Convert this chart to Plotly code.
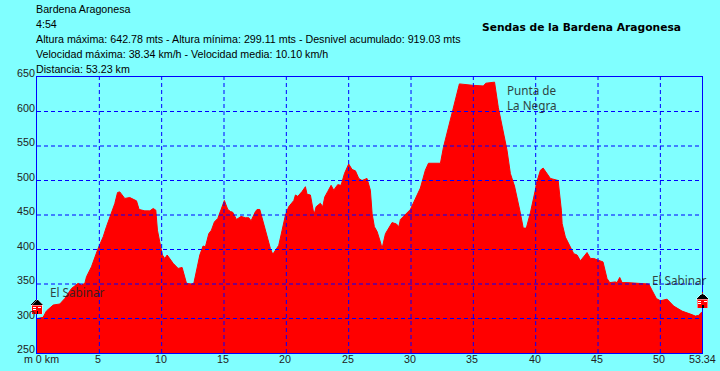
import base64
import plotly.graph_objects as go

km = [0,0.49,0.76,1.3,1.83,2.23,2.77,3.3,3.57,3.84,3.97,4.37,4.9,5.31,5.57,5.97,6.24,6.46,6.64,7.04,7.44,7.98,8.19,8.65,9.05,9.32,9.53,9.66,9.9,10.06,10.25,10.44,10.92,11.32,11.64,11.99,12.39,12.58,13.06,13.32,13.51,13.78,13.99,14.23,14.5,14.77,15.03,15.3,15.52,15.7,16.0,16.37,16.72,16.99,17.17,17.52,17.65,17.87,18.14,18.46,18.72,18.91,19.12,19.39,19.66,19.93,20.19,20.6,20.73,20.92,21.26,21.53,21.66,21.93,22.15,22.25,22.39,22.73,22.92,23.08,23.32,23.59,23.8,24.12,24.39,24.66,25.0,25.27,25.54,25.81,26.07,26.47,26.74,26.88,27.06,27.28,27.54,27.68,27.95,28.21,28.48,28.83,29.02,29.15,29.95,30.75,31.15,31.4,32.36,32.6,33.0,33.3,33.88,34.92,35.8,36.0,36.7,37.0,37.4,37.7,37.97,38.2,38.3,38.77,39.0,39.25,39.57,39.98,40.06,40.38,40.6,41.18,41.8,42.06,42.12,42.38,42.78,43.05,43.32,43.59,44.12,44.39,44.66,45.19,45.4,45.72,45.94,46.39,46.53,46.74,46.93,47.33,49.07,49.33,49.68,50.0,50.54,51.07,51.74,52.41,52.81,53.07,53.34]
elevation = [300,301.7,311,319.5,321,329,343.6,351,348.4,351,360.5,375,401.5,418.4,433,452,466.6,482.6,483.5,474,475.3,470.5,458,456,456,459.4,457,428,408.7,392,387,392,380,372.6,374,351,350,351,392,405,404,423,428,440,445,459,471,458,455,454,443.5,448,446,446,441.5,455,458,458,440,418,401.5,393,399,406,428,450,462,471,479,477,484,491,480,479,457,452,462,467,462,476,484,493,486,494,493,510,524,516,514,503,500,503,486,452,433,426,411,401.5,423,430.5,439,437,433,443.5,458,489,515,525,525,548,577,602,640,638,637,641,642.5,606,573,544,510,496,492,453,431,431,453,487,496,515,518,503,500,457,437.6,418,404,394,392,383.6,395.6,387,387,383.6,382,358,352,353,352,359.5,352,352,350,341,329,325.7,328,318,310.7,306.4,303.5,304.5,309.8]

y_ticks = [250,300,350,400,450,500,550,600,650]
x_ticks = [5,10,15,20,25,30,35,40,45,50]
x_tick_labels = ["5","10","15","20","25","30","35","40","45","50"]
info_lines = [
    "Bardena Aragonesa",
    "4:54",
    "Altura máxima: 642.78 mts - Altura mínima: 299.11 mts - Desnivel acumulado: 919.03 mts",
    "Velocidad máxima: 38.34 km/h - Velocidad media: 10.10 km/h",
    "Distancia: 53.23 km",
]
title = "Sendas de la Bardena Aragonesa"
x_max = 53.34

BG = "#80FFFF"
BLUE = "#0000FF"
L, R, T, B = 36.5, 702.5, 76.5, 353.0

def px(x):
    return (x - L) / (R - L)

def py(y):
    return (B - y) / (B - T)

house = """<svg xmlns='http://www.w3.org/2000/svg' width='13' height='16' viewBox='0 0 13 16' shape-rendering='crispEdges'>
<rect x='6' y='0' width='1' height='1' fill='#ff0000'/>
<polygon points='6.5,1 13,7 0,7' fill='#000000' stroke='#ffffff' stroke-width='0.5'/>
<rect x='1' y='7' width='11' height='9' fill='#ff0000' stroke='#ffffff' stroke-width='0.5'/>
<rect x='2' y='9' width='3' height='1' fill='#ffffff'/><rect x='2' y='11' width='3' height='1' fill='#ffffff'/>
<rect x='8' y='9' width='3' height='1' fill='#ffffff'/><rect x='6' y='13' width='2' height='3' fill='#000000'/>
</svg>"""
house_uri = "data:image/svg+xml;base64," + base64.b64encode(house.encode()).decode()

fig = go.Figure(go.Scatter(x=km, y=elevation, mode="lines", fill="tozeroy",
                           fillcolor="#FF0000", line=dict(color="#FF0000", width=1),
                           hoverinfo="skip"))

shapes = []
for v in y_ticks[1:-1]:
    shapes.append(dict(type="line", xref="x", yref="y", x0=0, x1=x_max, y0=v, y1=v,
                       line=dict(color=BLUE, width=1, dash="4px,3px"), layer="above"))
for v in x_ticks:
    shapes.append(dict(type="line", xref="x", yref="y", x0=v, x1=v, y0=250, y1=650,
                       line=dict(color=BLUE, width=1, dash="4px,3px"), layer="above"))

ann = []
tick_font = dict(family="Liberation Sans", size=10.7, color="#222222")
for v in y_ticks:
    ann.append(dict(x=0, y=v, xref="x", yref="y", text=str(v), showarrow=False, font=tick_font,
                    xanchor="right", yanchor="middle", xshift=0, yshift=4))
for v, t in zip(x_ticks, x_tick_labels):
    ann.append(dict(x=v, y=250, xref="x", yref="y", text=t, showarrow=False, font=tick_font,
                    xanchor="center", yanchor="middle", xshift=-1, yshift=-6))
ann.append(dict(x=0, y=250, xref="x", yref="y", text="m 0 km", showarrow=False, font=tick_font,
                xanchor="center", yanchor="middle", xshift=4.5, yshift=-6))
ann.append(dict(x=x_max, y=250, xref="x", yref="y", text="53.34", showarrow=False, font=tick_font,
                xanchor="center", yanchor="middle", xshift=0, yshift=-6))

for i, line in enumerate(info_lines):
    ann.append(dict(x=px(33), y=py(8 + 15 * i), xref="paper", yref="paper", text=line, showarrow=False,
                    font=dict(family="Liberation Sans", size=10.7, color="#000000"),
                    xanchor="left", yanchor="middle"))
ann.append(dict(x=px(581.5), y=py(27), xref="paper", yref="paper", text=f"<b>{title}</b>",
                showarrow=False, font=dict(family="DejaVu Sans", size=10.7, color="#000000"),
                xanchor="center", yanchor="middle"))

label_font = dict(family="Noto Sans", size=11.7, color="#222222")
ann.append(dict(x=0.85, y=339, xref="x", yref="y", text="El Sabinar", showarrow=False, font=label_font,
                xanchor="left", yanchor="middle", opacity=0.85))
ann.append(dict(x=49.15, y=356, xref="x", yref="y", text="El Sabinar", showarrow=False, font=label_font,
                xanchor="left", yanchor="middle", opacity=0.85))
ann.append(dict(x=37.55, y=631, xref="x", yref="y", text="Punta de", showarrow=False, font=label_font,
                xanchor="left", yanchor="middle", opacity=0.85))
ann.append(dict(x=37.55, y=610, xref="x", yref="y", text="La Negra", showarrow=False, font=label_font,
                xanchor="left", yanchor="middle", opacity=0.85))

images = [
    dict(source=house_uri, xref="paper", yref="paper", x=px(30), y=py(298), sizex=13 / (R - L), sizey=16 / (B - T),
         xanchor="left", yanchor="top", sizing="stretch", layer="above"),
    dict(source=house_uri, xref="paper", yref="paper", x=px(696.5), y=py(292), sizex=13 / (R - L), sizey=16 / (B - T),
         xanchor="left", yanchor="top", sizing="stretch", layer="above"),
]

fig.update_layout(
    width=720, height=371, autosize=False,
    margin=dict(l=L, r=720 - R, t=T, b=371 - B, pad=0),
    paper_bgcolor=BG, plot_bgcolor=BG, showlegend=False,
    shapes=shapes, annotations=ann, images=images,
    xaxis=dict(range=[0, x_max], showgrid=False, zeroline=False, showticklabels=False,
               ticks="", showline=True, mirror=True, linecolor=BLUE, linewidth=1, layer="above traces"),
    yaxis=dict(range=[250, 650], showgrid=False, zeroline=False, showticklabels=False,
               ticks="", showline=True, mirror=True, linecolor=BLUE, linewidth=1, layer="above traces"),
)
fig.write_html("out.html", config={"displayModeBar": False},
               post_script="document.body.style.margin='0';document.body.style.background='#80FFFF';document.body.style.overflow='hidden';")
